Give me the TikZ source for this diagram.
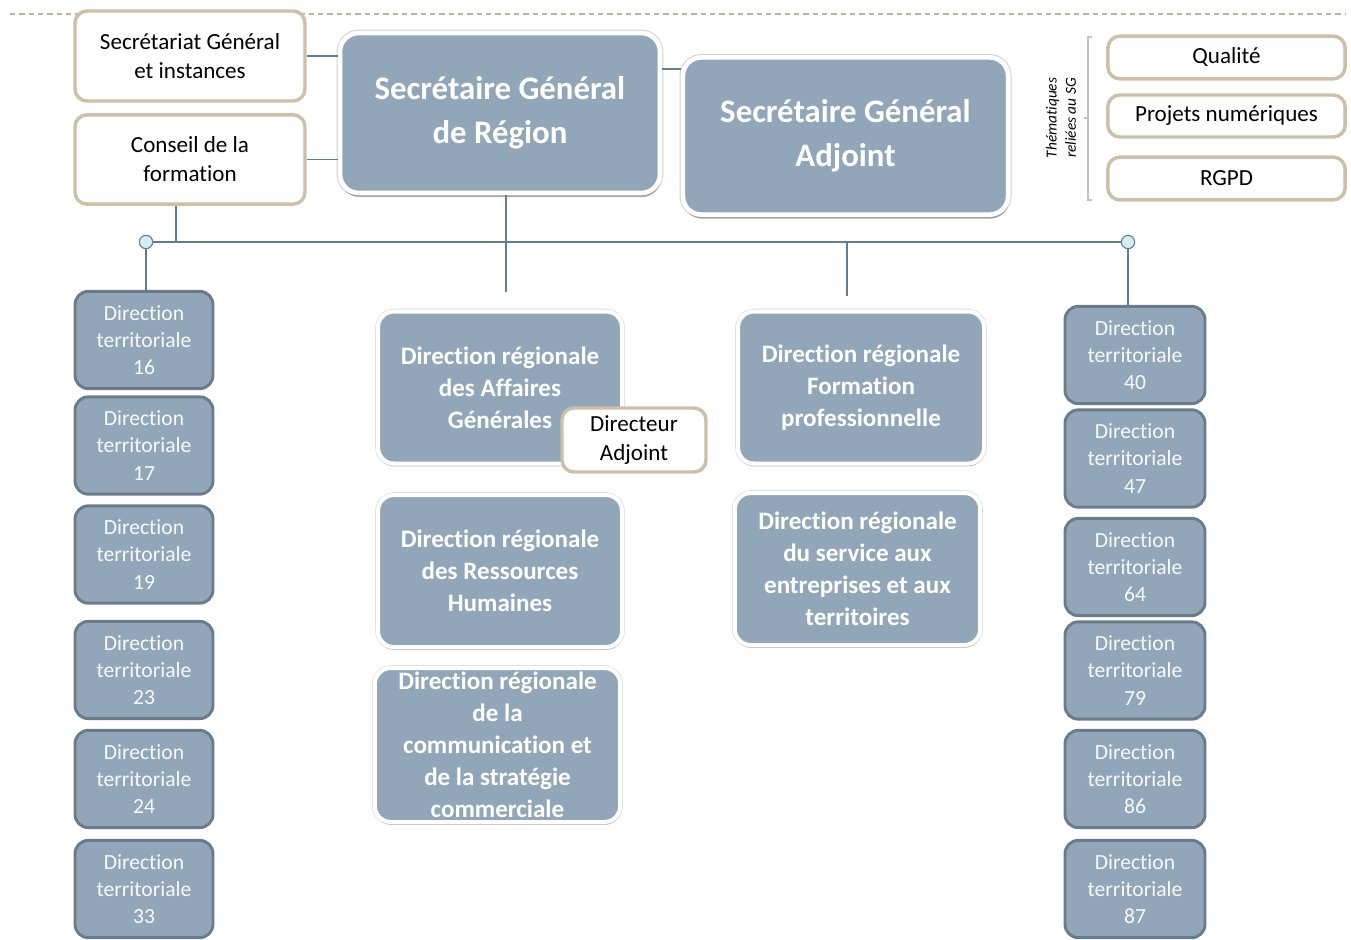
\documentclass[tikz,border=0pt]{standalone}
\usepackage{fontspec}
\setmainfont{Carlito}[Ligatures=NoCommon]
\usetikzlibrary{shadows}

\definecolor{slate}{RGB}{145,167,185}
\definecolor{slatedark}{RGB}{106,124,140}
\definecolor{beige}{RGB}{204,192,168}
\definecolor{linkblue}{RGB}{96,125,150}
\definecolor{knob}{RGB}{214,236,242}

\tikzset{every picture/.style={line width=0.75pt}}
\tikzset{
  sidebox/.style={draw=beige, line width=2.6pt, fill=white, rounded corners=9pt,
    align=center, font=\fontsize{17.3}{21.8}\selectfont, inner sep=0pt},
  headbox/.style={draw=white, line width=3.5pt, fill=slate, rounded corners=14pt,
    align=center, text=white, font=\bfseries\fontsize{24.6}{33}\selectfont,
    preaction={draw=black!18, line width=5pt},
    drop shadow={shadow xshift=0.6pt, shadow yshift=-3pt, fill=black!70, opacity=0.45}},
  regbox/.style={draw=white, line width=3pt, fill=slate, rounded corners=12pt,
    align=center, text=white, font=\bfseries\fontsize{18.8}{24}\selectfont,
    minimum width=183pt, minimum height=114pt, inner sep=0pt,
    preaction={draw=black!12, line width=4.2pt},
    drop shadow={shadow xshift=0.4pt, shadow yshift=-2.2pt, fill=black!50, opacity=0.3}},
  terrbox/.style={draw=slatedark, line width=2.2pt, fill=slate, rounded corners=10pt,
    align=center, text=white!94!slate, font=\fontsize{16.2}{20.3}\selectfont,
    minimum height=73pt, inner sep=0pt},
  link/.style={draw=linkblue, line width=1pt},
  knobdot/.style={circle, draw=linkblue, fill=knob, line width=0.8pt,
    minimum size=10pt, inner sep=0pt},
}

\begin{document}
\begin{tikzpicture}[x=0.75pt,y=0.75pt,yscale=-1,xscale=1]
\useasboundingbox (0,0) rectangle (1351,939);

% dashed rule at the top
\draw [draw=beige!80!gray, dashed, dash pattern=on 4pt off 3pt, line width=0.8pt] (10,14) -- (1345,14);

% top level
\node [headbox, minimum width=240pt, minimum height=120pt] (sg) at (500,113) {Secrétaire Général\\de Région};
\node [headbox, minimum width=244pt, minimum height=118pt] (sga) at (845.5,136) {Secrétaire Général\\Adjoint};

\node [sidebox, minimum width=172.5pt, minimum height=67.5pt] (secinst) at (190,56) {Secrétariat Général\\et instances};
\node [sidebox, minimum width=172.5pt, minimum height=67pt] (conseil) at (190,159.5) {Conseil de la\\formation};

% thematiques
\node [sidebox, minimum width=178pt, minimum height=32pt] (qualite) at (1226.5,57.5) {Qualité};
\node [sidebox, minimum width=178pt, minimum height=31.5pt] (projets) at (1226.5,116) {Projets numériques};
\node [sidebox, minimum width=178pt, minimum height=32pt] (rgpd) at (1226.5,178.5) {RGPD};
\draw [draw=linkblue!45, line width=0.8pt] (1092,37) -- (1088,37) -- (1088,200) -- (1092,200);
\draw [draw=linkblue!45, line width=0.8pt] (1088,118) -- (1084,118);
\node [rotate=90, align=center, font=\itshape\fontsize{11.5}{14.5}\selectfont] (them) at (1061,118) {Thématiques\\reliées au SG};

% links at the top
\draw [link] (secinst.east) -- (secinst.east -| sg.west);
\draw [link] (conseil.east) -- (conseil.east -| sg.west);
\draw [link] ([yshift=-33pt]sg.east) -- ([yshift=-33pt]sg.east -| sga.west);

% bus
\node [knobdot] (busL) at (146,242) {};
\node [knobdot] (busR) at (1128,242) {};
\draw [link] (busL) -- (busR);
\draw [link] ([xshift=-10.5pt]conseil.south) -- ([xshift=-10.5pt]conseil.south |- busL);
\coordinate (sgend) at (506,292);
\draw [link] (sgend |- sg.south) -- (sgend);
\coordinate (fpend) at (847,296);
\draw [link] (fpend |- busL) -- (fpend);

% regional directions
\node [regbox] (drag) at (500,387.5) {Direction régionale\\des Affaires\\Générales};
\node [regbox] (drrh) at (500,571) {Direction régionale\\des Ressources\\Humaines};
\node [regbox, minimum width=184pt, minimum height=115.5pt] (drcsc) at (497.5,745) {Direction régionale\\de la\\communication et\\de la stratégie\\commerciale};
\node [regbox, minimum width=184.5pt] (drfp) at (861,387.5) {Direction régionale\\Formation\\professionnelle};
\node [regbox, minimum width=184pt] (drset) at (857.5,569) {Direction régionale\\du service aux\\entreprises et aux\\territoires};
\node [sidebox, minimum width=108pt, minimum height=48pt] (diradj) at (634,440) {Directeur\\Adjoint};

% territorial directions
\foreach \num/\y in {16/340,17/445.5,19/554.5,23/670,24/779,33/889}
  \node [terrbox, minimum width=103.5pt] (dt\num) at (144,\y) {Direction\\territoriale\\\num};
\foreach \num/\y in {40/355,47/458.5,64/567,79/670.5,86/779,87/889}
  \node [terrbox, minimum width=105pt] (dt\num) at (1135,\y) {Direction\\territoriale\\\num};

\draw [link] (busL) -- (busL |- dt16.north);
\draw [link] (busR) -- (busR |- dt40.north);

\end{tikzpicture}
\end{document}
